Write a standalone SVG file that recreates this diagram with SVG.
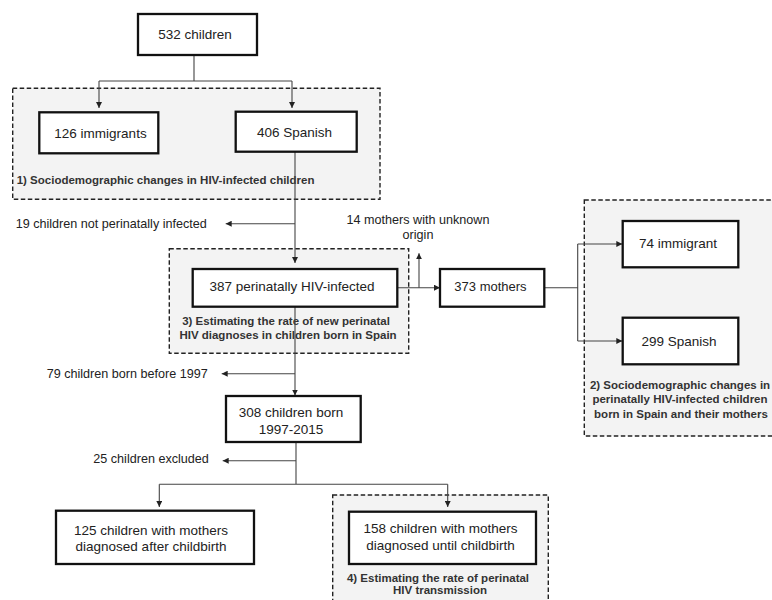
<svg xmlns="http://www.w3.org/2000/svg" width="772" height="600" viewBox="0 0 772 600">
<defs>
<marker id="arr" markerUnits="userSpaceOnUse" markerWidth="7" markerHeight="6" refX="6" refY="3" orient="auto">
<path d="M0,0 L6,3 L0,6 z" fill="#222"/>
</marker>
<style>
.node{fill:#fff;stroke:#111;stroke-width:2.3}
.grp{fill:#f3f3f3;stroke:#222;stroke-width:1.4;stroke-dasharray:4.5,2.5}
.t{font-family:"Liberation Sans",Arial,sans-serif;font-size:13.5px;fill:#222;text-anchor:middle}
.s{font-family:"Liberation Sans",Arial,sans-serif;font-size:12.6px;fill:#222}
.b{font-family:"Liberation Sans",Arial,sans-serif;font-size:11.5px;font-weight:bold;fill:#333}
.c{fill:none;stroke:#444;stroke-width:1.1}
</style>
</defs>
<rect width="772" height="600" fill="#fff"/>

<g id="group1">
<rect class="grp" x="12.7" y="88.3" width="367.3" height="111"/>
<text class="b" x="16.7" y="184">1) Sociodemographic changes in HIV-infected children</text>
</g>
<g id="group3">
<rect class="grp" x="169.3" y="248.7" width="239.4" height="104.6"/>
<text class="b" x="286" y="325" text-anchor="middle">3) Estimating the rate of new perinatal</text>
<text class="b" x="288" y="339" text-anchor="middle">HIV diagnoses in children born in Spain</text>
</g>
<g id="group2">
<rect class="grp" x="584.3" y="200" width="200" height="236"/>
<text class="b" x="680" y="389.3" text-anchor="middle">2) Sociodemographic changes in</text>
<text class="b" x="680" y="403.3" text-anchor="middle">perinatally HIV-infected children</text>
<text class="b" x="681" y="417.7" text-anchor="middle">born in Spain and their mothers</text>
</g>
<g id="group4">
<rect class="grp" x="332.7" y="495" width="215.6" height="115"/>
<text class="b" x="438" y="581.7" text-anchor="middle">4) Estimating the rate of perinatal</text>
<text class="b" x="440" y="594" text-anchor="middle">HIV transmission</text>
</g>

<g id="connectors">
<path class="c" d="M194,55 V81 M99,81 H292"/>
<path class="c" d="M99,81 V108" marker-end="url(#arr)"/>
<path class="c" d="M292,81 V108" marker-end="url(#arr)"/>
<path class="c" d="M295,152 V263" marker-end="url(#arr)"/>
<path class="c" d="M295,223.7 H225.7" marker-end="url(#arr)"/>
<path class="c" d="M397.3,287.7 H440" marker-end="url(#arr)"/>
<path class="c" d="M419,287.7 V253.3" marker-end="url(#arr)"/>
<path class="c" d="M544.3,287.7 H577.7 M577.7,244 V341"/>
<path class="c" d="M577.7,244 H622.3" marker-end="url(#arr)"/>
<path class="c" d="M577.7,341 H622.3" marker-end="url(#arr)"/>
<path class="c" d="M295,306.7 V395.5" marker-end="url(#arr)"/>
<path class="c" d="M295,373.7 H221.7" marker-end="url(#arr)"/>
<path class="c" d="M296,442 V484.3 M159.3,484.3 H447.7"/>
<path class="c" d="M296,460.7 H222.7" marker-end="url(#arr)"/>
<path class="c" d="M159.3,484.3 V507" marker-end="url(#arr)"/>
<path class="c" d="M447.7,484.3 V507" marker-end="url(#arr)"/>
</g>

<g id="labels">
<text class="s" x="15.7" y="227.7">19 children not perinatally infected</text>
<text class="s" x="418" y="224.3" text-anchor="middle">14 mothers with unknown</text>
<text class="s" x="418" y="239.3" text-anchor="middle">origin</text>
<text class="s" x="46.7" y="377.7">79 children born before 1997</text>
<text class="s" x="93.3" y="463.3">25 children excluded</text>
</g>

<g id="n532">
<rect class="node" x="138" y="14" width="119" height="41"/>
<text class="t" x="195" y="38.5">532 children</text>
</g>
<g id="n126">
<rect class="node" x="39.3" y="112.3" width="119" height="41"/>
<text class="t" x="100.5" y="138.3">126 immigrants</text>
</g>
<g id="n406">
<rect class="node" x="235.7" y="111.7" width="121" height="40"/>
<text class="t" x="294.5" y="136.7">406 Spanish</text>
</g>
<g id="n387">
<rect class="node" x="192.7" y="269" width="204.6" height="37.7"/>
<text class="t" x="292" y="290.5">387 perinatally HIV-infected</text>
</g>
<g id="n373">
<rect class="node" x="440" y="269" width="104.3" height="37.7"/>
<text class="t" x="490.5" y="291" style="font-size:13px">373 mothers</text>
</g>
<g id="n74">
<rect class="node" x="622.7" y="221" width="115.6" height="46.3"/>
<text class="t" x="678" y="248.3">74 immigrant</text>
</g>
<g id="n299">
<rect class="node" x="622.7" y="317.7" width="115.6" height="46.6"/>
<text class="t" x="679" y="346">299 Spanish</text>
</g>
<g id="n308">
<rect class="node" x="226" y="396" width="134.7" height="46"/>
<text class="t" x="291" y="417.3">308 children born</text>
<text class="t" x="291" y="434">1997-2015</text>
</g>
<g id="n125">
<rect class="node" x="56" y="510.7" width="198" height="53.3"/>
<text class="t" x="151" y="535">125 children with mothers</text>
<text class="t" x="151" y="550.7">diagnosed after childbirth</text>
</g>
<g id="n158">
<rect class="node" x="349" y="511.7" width="187" height="52.3"/>
<text class="t" x="440.5" y="533.3">158 children with mothers</text>
<text class="t" x="440.5" y="550">diagnosed until childbirth</text>
</g>
</svg>
